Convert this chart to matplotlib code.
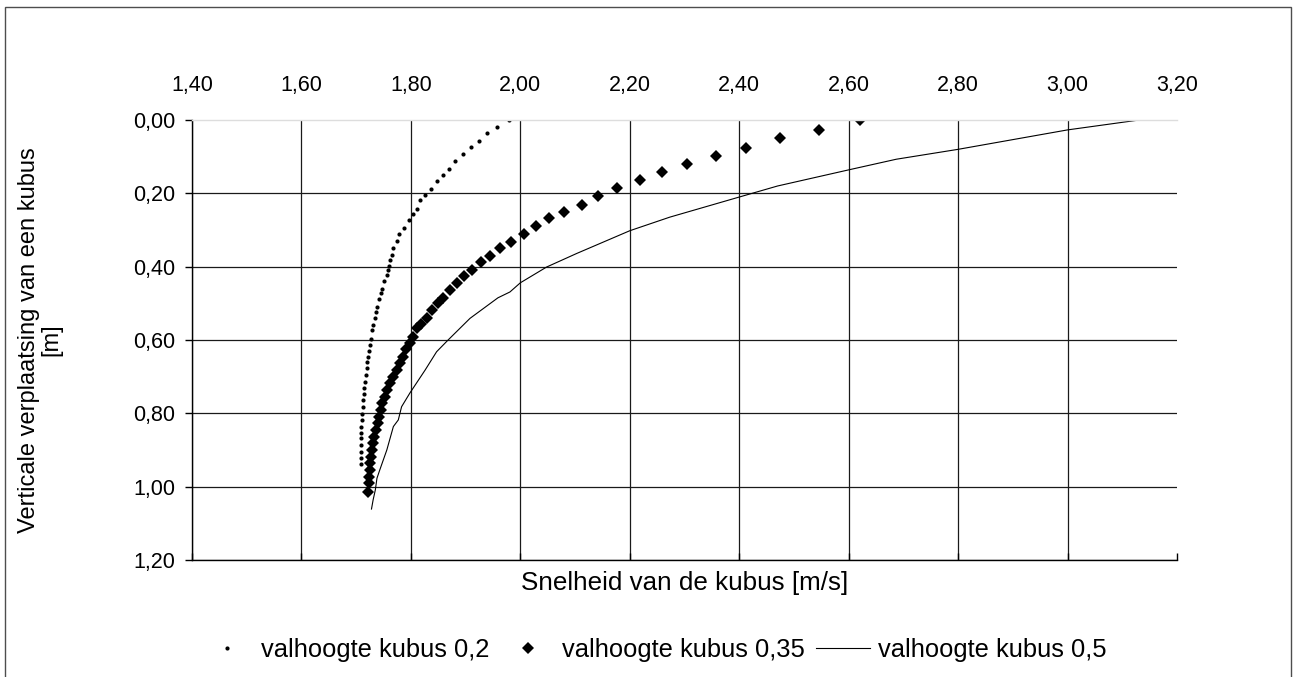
"""
Snelheid van een vallende kubus tegen de verticale verplaatsing.
"""

import matplotlib
matplotlib.use('Agg')
import matplotlib.pyplot as plt
from matplotlib.lines import Line2D
from matplotlib.patches import Rectangle
from matplotlib.ticker import FuncFormatter

plt.rcParams['font.family'] = ['Liberation Sans', 'DejaVu Sans']

# valhoogte kubus 0,2
speed_02 = [1.979, 1.957, 1.939, 1.924, 1.909, 1.895, 1.880, 1.869, 1.858, 1.847,
            1.836, 1.826, 1.816, 1.811, 1.804, 1.796, 1.787, 1.778, 1.774, 1.767,
            1.765, 1.762, 1.760, 1.758, 1.756, 1.751, 1.747, 1.745, 1.742, 1.738,
            1.736, 1.734, 1.731, 1.729, 1.727, 1.725, 1.723, 1.722, 1.720, 1.720,
            1.718, 1.716, 1.714, 1.714, 1.713, 1.712, 1.710, 1.710, 1.709, 1.709,
            1.708, 1.708, 1.708, 1.708, 1.708]
disp_02 = [0.000, 0.019, 0.035, 0.057, 0.073, 0.093, 0.112, 0.134, 0.150, 0.166,
           0.188, 0.204, 0.218, 0.243, 0.256, 0.273, 0.295, 0.311, 0.330, 0.349,
           0.368, 0.383, 0.398, 0.410, 0.423, 0.440, 0.461, 0.472, 0.488, 0.510,
           0.524, 0.540, 0.559, 0.573, 0.597, 0.614, 0.630, 0.646, 0.660, 0.676,
           0.695, 0.714, 0.731, 0.747, 0.764, 0.783, 0.802, 0.818, 0.837, 0.853,
           0.868, 0.886, 0.905, 0.922, 0.938]

# valhoogte kubus 0,35
speed_035 = [2.621, 2.545, 2.475, 2.412, 2.357, 2.305, 2.258, 2.218, 2.177, 2.142,
             2.112, 2.079, 2.053, 2.028, 2.006, 1.983, 1.963, 1.944, 1.929, 1.912,
             1.897, 1.885, 1.871, 1.859, 1.849, 1.838, 1.830, 1.819, 1.812, 1.804,
             1.798, 1.791, 1.786, 1.780, 1.774, 1.768, 1.762, 1.757, 1.753, 1.748,
             1.745, 1.742, 1.739, 1.736, 1.733, 1.731, 1.729, 1.728, 1.726, 1.725,
             1.724, 1.723, 1.721]
disp_035 = [0.000, 0.027, 0.049, 0.076, 0.097, 0.119, 0.141, 0.163, 0.185, 0.206,
            0.231, 0.250, 0.266, 0.288, 0.311, 0.332, 0.349, 0.370, 0.387, 0.409,
            0.425, 0.445, 0.464, 0.485, 0.500, 0.518, 0.539, 0.555, 0.568, 0.591,
            0.609, 0.625, 0.645, 0.664, 0.682, 0.700, 0.718, 0.736, 0.755, 0.773,
            0.791, 0.809, 0.827, 0.845, 0.864, 0.882, 0.900, 0.918, 0.936, 0.955,
            0.973, 0.991, 1.014]

# valhoogte kubus 0,5
speed_05 = [3.131, 3.000, 2.800, 2.687, 2.600, 2.470, 2.398, 2.273, 2.200, 2.103,
            2.048, 2.000, 1.981, 1.959, 1.908, 1.868, 1.847, 1.826, 1.810, 1.798,
            1.783, 1.777, 1.768, 1.756, 1.743, 1.738, 1.735, 1.731, 1.728]
disp_05 = [0.000, 0.027, 0.080, 0.107, 0.136, 0.180, 0.211, 0.265, 0.302, 0.364,
           0.401, 0.444, 0.469, 0.485, 0.541, 0.600, 0.632, 0.682, 0.718, 0.745,
           0.782, 0.818, 0.836, 0.900, 0.955, 0.977, 1.009, 1.036, 1.061]

series_labels = ['valhoogte kubus 0,2', 'valhoogte kubus 0,35', 'valhoogte kubus 0,5']
x_ticks = [1.40, 1.60, 1.80, 2.00, 2.20, 2.40, 2.60, 2.80, 3.00, 3.20]
y_ticks = [0.00, 0.20, 0.40, 0.60, 0.80, 1.00, 1.20]

W, H = 1293, 677
fig = plt.figure(figsize=(W / 100, H / 100), dpi=100)
ax = fig.add_axes([192 / W, 1 - 560 / H, (1177 - 192) / W, (560 - 120) / H])

dot_style = dict(linestyle='none', marker='o', markersize=3.0, color='black',
                 markeredgewidth=0)
diamond_style = dict(linestyle='none', marker='D', markersize=6.4, color='black',
                     markeredgewidth=0)
line_style = dict(color='black', linewidth=0.8)

ax.plot(speed_02, disp_02, **dot_style)
ax.plot(speed_035, disp_035, **diamond_style)
ax.plot(speed_05, disp_05, **line_style)

ax.set_xlim(x_ticks[0], x_ticks[-1])
ax.set_ylim(y_ticks[-1], y_ticks[0])
ax.set_xticks(x_ticks)
ax.set_yticks(y_ticks)

comma = FuncFormatter(lambda v, pos: f'{v:.2f}'.replace('.', ','))
ax.xaxis.set_major_formatter(comma)
ax.yaxis.set_major_formatter(comma)

ax.tick_params(axis='x', bottom=True, top=False, labelbottom=False, labeltop=True,
               direction='in', length=5, width=1, pad=17, labelsize=15.5)
ax.tick_params(axis='y', left=True, right=False, direction='out', length=5,
               width=1, pad=7, labelsize=15.5)

ax.grid(True, color='#1a1a1a', linewidth=0.9)
ax.xaxis.get_gridlines()[-1].set_visible(False)
ax.yaxis.get_gridlines()[0].set_visible(False)

for side in ['left', 'bottom']:
    ax.spines[side].set_color('black')
    ax.spines[side].set_linewidth(1)
ax.spines['right'].set_visible(False)
ax.spines['top'].set_color('#dddddd')
ax.spines['top'].set_linewidth(1)

fig.text(684.5 / W, 1 - 583 / H, 'Snelheid van de kubus [m/s]',
         ha='center', va='center', fontsize=18.7)
fig.text(40 / W, 1 - 340 / H, 'Verticale verplaatsing van een kubus\n[m]',
         ha='center', va='center', rotation=90, fontsize=17, linespacing=1.05,
         multialignment='center')

handles = [Line2D([], [], **dot_style), Line2D([], [], **diamond_style),
           Line2D([], [], **line_style)]
fig.legend(handles, series_labels, loc='center', bbox_to_anchor=(653 / W, 1 - 650 / H),
           ncol=3, frameon=False, fontsize=18.4, handlelength=2.1,
           handletextpad=0.3, columnspacing=0.45)

# rand om de hele grafiek
fig.patches.append(Rectangle((5 / W, -0.1), (1291 - 5) / W, (1 - 7 / H) + 0.1,
                             transform=fig.transFigure, fill=False,
                             edgecolor='#4d4d4d', linewidth=1))

plt.savefig('out.png', dpi=100)
plt.close(fig)
